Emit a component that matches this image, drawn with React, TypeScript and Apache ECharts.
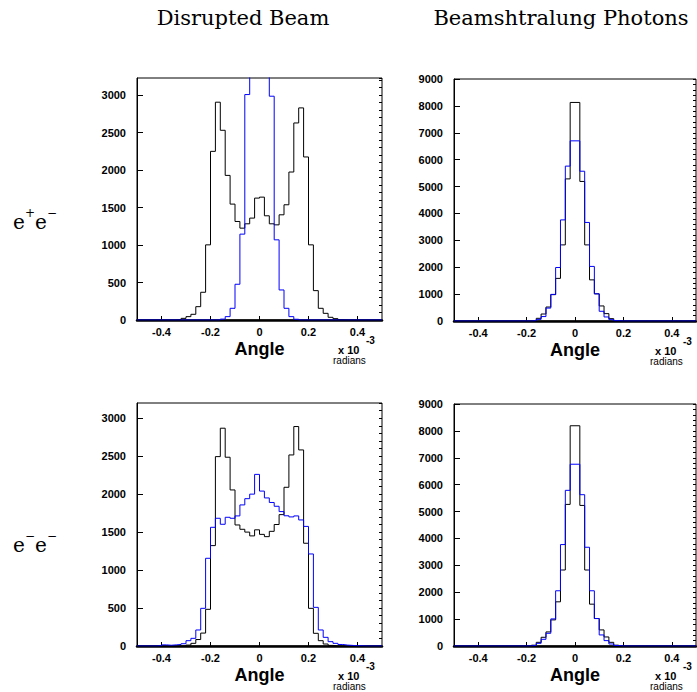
import React, { useEffect, useRef } from "react";
import * as echarts from "echarts";

// Histogram binning: 50 bins of width 0.02 from -0.5 to 0.5 (x 10^-3 radians)
const BIN_START = -0.5;
const BIN_WIDTH = 0.02;

const xTickValues = [-0.4, -0.2, 0, 0.2, 0.4];

// e+e- , Disrupted Beam
const epemBeamBlack = [
  0, 0, 0, 0, 0, 0, 0, 0, 5, 22,
  45, 76, 178, 370, 1003, 2251, 2907, 2532, 1930, 1547,
  1315, 1226, 1284, 1360, 1627, 1640, 1391, 1284, 1270, 1404,
  1538, 1975, 2630, 2831, 2176, 1003, 392, 156, 89, 36,
  18, 5, 0, 0, 0, 0, 0, 0, 0, 0,
];
const epemBeamBlue = [
  0, 0, 0, 0, 0, 0, 0, 0, 0, 0,
  0, 0, 0, 0, 0, 0, 0, 12, 45, 156,
  477, 1146, 3009, 5600, 7200, 7100, 5500, 2987, 1070, 401,
  156, 45, 10, 0, 0, 0, 0, 0, 0, 0,
  0, 0, 0, 0, 0, 0, 0, 0, 0, 0,
];
// e+e- , Beamshtralung Photons
const epemPhotonBlack = [
  0, 0, 0, 0, 0, 0, 0, 0, 0, 0,
  0, 0, 0, 0, 0, 0, 20, 100, 260, 520,
  980, 1585, 2830, 5285, 8128, 8128, 5190, 2830, 1530, 1010,
  560, 274, 87, 15, 0, 0, 0, 0, 0, 0,
  0, 0, 0, 0, 0, 0, 0, 0, 0, 0,
];
const epemPhotonBlue = [
  0, 0, 0, 0, 0, 0, 0, 0, 0, 0,
  0, 0, 0, 0, 0, 0, 10, 60, 165, 480,
  990, 1990, 3760, 5760, 6700, 6700, 5570, 3665, 2030, 1010,
  361, 150, 50, 10, 0, 0, 0, 0, 0, 0,
  0, 0, 0, 0, 0, 0, 0, 0, 0, 0,
];
// e-e- , Disrupted Beam
const ememBeamBlack = [
  0, 0, 0, 0, 0, 0, 0, 0, 0, 0,
  12, 35, 85, 170, 483, 1322, 2494, 2868, 2486, 2055,
  1594, 1537, 1500, 1450, 1530, 1470, 1440, 1510, 1600, 1730,
  2090, 2516, 2890, 2582, 1353, 496, 167, 70, 26, 8,
  0, 0, 0, 0, 0, 0, 0, 0, 0, 0,
];
const ememBeamBlue = [
  0, 0, 0, 0, 5, 15, 10, 15, 20, 30,
  70, 101, 211, 496, 1155, 1563, 1682, 1603, 1695, 1682,
  1713, 1858, 1940, 2000, 2260, 2040, 1950, 1890, 1840, 1770,
  1715, 1700, 1713, 1660, 1575, 1212, 509, 211, 114, 57,
  35, 20, 12, 8, 3, 3, 0, 0, 0, 0,
];
// e-e- , Beamshtralung Photons
const ememPhotonBlack = [
  0, 0, 0, 0, 0, 0, 0, 0, 0, 0,
  0, 0, 0, 0, 0, 0, 30, 137, 324, 523,
  971, 1643, 2826, 5266, 8191, 8191, 5228, 2826, 1556, 1021,
  598, 336, 137, 30, 0, 0, 0, 0, 0, 0,
  0, 0, 0, 0, 0, 0, 0, 0, 0, 0,
];
const ememPhotonBlue = [
  0, 0, 0, 0, 0, 0, 0, 0, 0, 0,
  0, 0, 0, 0, 0, 5, 20, 100, 249, 473,
  1008, 2054, 3772, 5789, 6760, 6760, 5627, 3672, 2054, 1021,
  411, 200, 75, 20, 0, 0, 0, 0, 0, 0,
  0, 0, 0, 0, 0, 0, 0, 0, 0, 0,
];

const columnTitles = ["Disrupted Beam", "Beamshtralung Photons"];

const panels = [
  { box: { left: 137, top: 78, width: 245, height: 242 }, yMax: 3230, major: 500, minor: 100, black: epemBeamBlack, blue: epemBeamBlue },
  { box: { left: 454, top: 79, width: 242, height: 242 }, yMax: 9000, major: 1000, minor: 200, black: epemPhotonBlack, blue: epemPhotonBlue },
  { box: { left: 137, top: 403, width: 245, height: 243 }, yMax: 3200, major: 500, minor: 100, black: ememBeamBlack, blue: ememBeamBlue },
  { box: { left: 454, top: 404, width: 242, height: 242 }, yMax: 9000, major: 1000, minor: 200, black: ememPhotonBlack, blue: ememPhotonBlue },
];

function toSteps(values: number[]): [number, number][] {
  const pts: [number, number][] = values.map((v, i) => [
    +(BIN_START + i * BIN_WIDTH).toFixed(4),
    v,
  ]);
  pts.push([+(BIN_START + values.length * BIN_WIDTH).toFixed(4), values[values.length - 1]]);
  return pts;
}

const SANS = "Liberation Sans, Arial, Helvetica, sans-serif";
const SERIF = "DejaVu Serif, serif";

export default function App() {
  const ref = useRef<HTMLDivElement>(null);

  useEffect(() => {
    if (!ref.current) return;
    const chart = echarts.init(ref.current, null, { renderer: "svg" });

    const grid: any[] = [];
    const xAxis: any[] = [];
    const yAxis: any[] = [];
    const series: any[] = [];
    const graphic: any[] = [];

    panels.forEach((p, gi) => {
      grid.push({
        ...p.box,
        show: true,
        borderColor: "#000",
        borderWidth: 1,
        backgroundColor: "transparent",
      });
      xAxis.push({
        type: "value",
        gridIndex: gi,
        min: -0.5,
        max: 0.5,
        axisLine: { show: true, onZero: false, lineStyle: { color: "#000", width: 2.5 } },
        axisTick: {
          show: true,
          inside: true,
          length: 4,
          customValues: xTickValues,
          lineStyle: { color: "#000" },
        },
        axisLabel: {
          customValues: xTickValues,
          color: "#000",
          fontFamily: SANS,
          fontSize: 11,
          fontWeight: "bold",
          margin: 6,
          formatter: (v: number) => String(v),
        },
        splitLine: { show: false },
        name: "Angle",
        nameLocation: "middle",
        nameGap: 20,
        nameTextStyle: {
          color: "#000",
          fontFamily: SANS,
          fontSize: 18,
          fontWeight: "bold",
        },
      });
      const yIdx = yAxis.length;
      yAxis.push({
        type: "value",
        gridIndex: gi,
        min: 0,
        max: p.yMax,
        interval: p.major,
        axisLine: { show: true, onZero: false, lineStyle: { color: "#000", width: 1 } },
        axisTick: { show: true, inside: true, length: 6, lineStyle: { color: "#000" } },
        axisLabel: {
          color: "#000",
          fontFamily: SANS,
          fontSize: 11,
          fontWeight: "bold",
          margin: 11,
          showMaxLabel: p.yMax % p.major === 0,
          formatter: (v: number) => String(v),
        },
        splitLine: { show: false },
      });
      yAxis.push({
        type: "value",
        gridIndex: gi,
        min: 0,
        max: p.yMax,
        interval: p.minor,
        axisLine: { show: false, onZero: false },
        axisTick: { show: true, inside: true, length: 3, lineStyle: { color: "#000" } },
        axisLabel: { show: false },
        splitLine: { show: false },
      });
      series.push({
        type: "line",
        xAxisIndex: gi,
        yAxisIndex: yIdx,
        data: toSteps(p.black),
        step: "end",
        showSymbol: false,
        symbol: "none",
        clip: true,
        lineStyle: { color: "#000", width: 1 },
        z: 3,
      });
      series.push({
        type: "line",
        xAxisIndex: gi,
        yAxisIndex: yIdx,
        data: toSteps(p.blue),
        step: "end",
        showSymbol: false,
        symbol: "none",
        clip: true,
        lineStyle: { color: "#0000ff", width: 1 },
        z: 4,
      });

      const bx = p.box.left;
      const by = p.box.top + p.box.height;
      graphic.push(
        {
          type: "text",
          left: bx + 201,
          top: by + 24,
          style: { text: "x 10", fill: "#000", font: `bold 11px ${SANS}` },
        },
        {
          type: "text",
          left: bx + 229,
          top: by + 15,
          style: { text: "-3", fill: "#000", font: `bold 10px ${SANS}` },
        },
        {
          type: "text",
          left: bx + 196,
          top: by + 35,
          style: { text: "radians", fill: "#000", font: `10px ${SANS}` },
        }
      );
    });

    // column titles
    graphic.push(
      {
        type: "text",
        x: 243,
        y: 18,
        style: {
          text: columnTitles[0],
          fill: "#000",
          font: `21px ${SERIF}`,
          textAlign: "center",
          textVerticalAlign: "middle",
        },
      },
      {
        type: "text",
        x: 561,
        y: 18,
        style: {
          text: columnTitles[1],
          fill: "#000",
          font: `21px ${SERIF}`,
          textAlign: "center",
          textVerticalAlign: "middle",
        },
      }
    );

    // row labels e+e- and e-e-
    const rowLabel = (yc: number, s1: string, s2: string) => [
      { type: "text", x: 13, y: yc, style: { text: "e", fill: "#000", font: `20px ${SERIF}`, textVerticalAlign: "middle" } },
      { type: "text", x: 25, y: yc - 9, style: { text: s1, fill: "#000", font: `12px ${SERIF}`, textVerticalAlign: "middle" } },
      { type: "text", x: 35, y: yc, style: { text: "e", fill: "#000", font: `20px ${SERIF}`, textVerticalAlign: "middle" } },
      { type: "text", x: 47, y: yc - 9, style: { text: s2, fill: "#000", font: `12px ${SERIF}`, textVerticalAlign: "middle" } },
    ];
    graphic.push(...rowLabel(222, "+", "\u2212"), ...rowLabel(545, "\u2212", "\u2212"));

    chart.setOption({
      animation: false,
      backgroundColor: "#fff",
      grid,
      xAxis,
      yAxis,
      series,
      graphic,
    });

    return () => chart.dispose();
  }, []);

  return (
    <div
      ref={ref}
      style={{ position: "absolute", left: 0, top: 0, width: 697, height: 692 }}
    />
  );
}
